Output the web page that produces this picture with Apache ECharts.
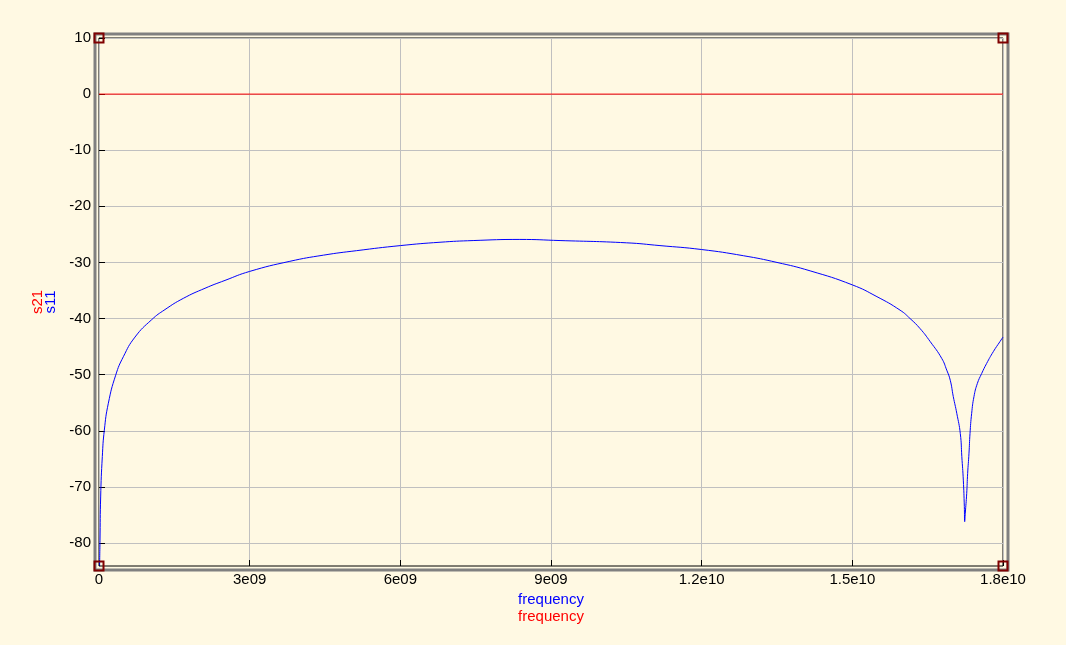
<!DOCTYPE html>
<html><head><meta charset="utf-8">
<script src="https://cdn.jsdelivr.net/npm/echarts@6/dist/echarts.min.js"></script>
<style>html,body{margin:0;padding:0;background:#fff9e3;}#c{width:1066px;height:645px;}</style>
</head><body><div id="c"></div>
<script>
// s11 trace (frequency in Hz, dB)
const freq = [1.2e7, 2.0e7, 3.3e7, 6.6e7, 1.06e8, 1.86e8, 3.32e8, 4.85e8, 7.17e8, 1.049e9, 1.314e9, 1.679e9, 2.111e9, 2.509e9, 3.0e9,
  3.8e9, 4.47e9, 5.13e9, 6.0e9, 6.79e9, 7.45e9, 8.38e9, 9.18e9, 1.05e10, 1.117e10, 1.2e10, 1.283e10, 1.35e10, 1.416e10, 1.5e10,
  1.549e10, 1.595e10, 1.615e10, 1.635e10, 1.655e10, 1.678e10, 1.688e10, 1.695e10, 1.701e10, 1.708e10, 1.715e10, 1.718e10, 1.721e10, 1.723e10, 1.7237e10,
  1.7249e10, 1.7277e10, 1.7296e10, 1.7323e10, 1.7343e10, 1.7376e10, 1.7422e10, 1.7488e10, 1.7575e10, 1.7674e10, 1.7807e10, 1.794e10, 1.8e10];
const s11 = [-84.0, -79.5, -71.8, -64.6, -59.9, -55.1, -50.1, -46.8, -43.3, -40.2, -38.4, -36.4, -34.6, -33.2, -31.6,
  -29.8, -28.7, -27.9, -27.0, -26.4, -26.1, -25.9, -26.1, -26.5, -27.0, -27.7, -28.8, -30.0, -31.5, -34.0,
  -36.1, -38.5, -40.0, -41.8, -44.1, -47.1, -49.2, -51.0, -53.9, -56.9, -60.5, -64.6, -68.8, -73.5, -76.2,
  -74.7, -71.2, -67.6, -64.0, -60.5, -56.9, -53.9, -51.6, -49.8, -48.0, -45.9, -44.1, -43.3];
// s21 trace
const s21Freq = [0, 1.8e10];
const s21 = [0, 0];
// axes
const xTicks = [0, 3e9, 6e9, 9e9, 1.2e10, 1.5e10, 1.8e10];
const xTickLabels = ['0', '3e09', '6e09', '9e09', '1.2e10', '1.5e10', '1.8e10'];
const yTicks = [10, 0, -10, -20, -30, -40, -50, -60, -70, -80];
const xMin = 0, xMax = 1.8e10, yMin = -84.1, yMax = 10;

const FONT = 'Liberation Sans, Arial, sans-serif';
const G = {left: 99, top: 38, right: 63, bottom: 79};
const W = 1066, H = 645;

const chart = echarts.init(document.getElementById('c'), null, {renderer: 'canvas'});
const baseX = {
  type: 'value', min: xMin, max: xMax, interval: 3e9,
  axisLine: {show: false, onZero: false},
  axisTick: {show: true, inside: true, length: 6, lineStyle: {color: '#000'}},
  axisLabel: {show: true, color: '#000', fontFamily: FONT, fontSize: 15, margin: 6,
    formatter: v => { const i = xTicks.indexOf(v); return i >= 0 ? xTickLabels[i] : ''; }},
  splitLine: {show: true, lineStyle: {color: '#c0c0c0', width: 1}},
  nameLocation: 'middle', nameTextStyle: {fontFamily: FONT, fontSize: 15}
};
const baseY = {
  type: 'value', min: yMin, max: yMax,
  axisLine: {show: false, onZero: false},
  nameLocation: 'middle', nameRotate: 90, nameTextStyle: {fontFamily: FONT, fontSize: 15}
};
chart.setOption({
  animation: false,
  backgroundColor: '#fff9e3',
  grid: {left: G.left, top: G.top, right: G.right, bottom: G.bottom, show: true, borderColor: '#000', borderWidth: 1, backgroundColor: 'transparent'},
  xAxis: [
    Object.assign({}, baseX, {name: 'frequency', nameGap: 22, nameTextStyle: {fontFamily: FONT, fontSize: 15, color: '#0000ff'}}),
    Object.assign({}, baseX, {position: 'bottom', name: 'frequency', nameGap: 43,
      nameTextStyle: {fontFamily: FONT, fontSize: 15, color: '#ff0000'},
      axisTick: {show: false}, axisLabel: {show: false}, splitLine: {show: false}})
  ],
  yAxis: [
    Object.assign({}, baseY, {name: 's11', nameGap: 29, nameTextStyle: {fontFamily: FONT, fontSize: 15, color: '#0000ff'},
      axisTick: {show: true, inside: true, length: 6, lineStyle: {color: '#000'}, customValues: yTicks},
      axisLabel: {show: true, color: '#000', fontFamily: FONT, fontSize: 15, margin: 8, customValues: yTicks},
      splitLine: {show: true, lineStyle: {color: '#c0c0c0', width: 1}}}),
    Object.assign({}, baseY, {position: 'left', offset: 0, name: 's21', nameGap: 54,
      nameTextStyle: {fontFamily: FONT, fontSize: 15, color: '#ff0000'},
      axisTick: {show: false}, axisLabel: {show: false}, splitLine: {show: false}})
  ],
  series: [
    {type: 'line', name: 's11', data: freq.map((f, i) => [f, s11[i]]), showSymbol: false, symbol: 'none',
      smooth: 0.5,
      lineStyle: {color: '#0000ff', width: 1}, z: 3},
    {type: 'line', name: 's21', data: s21Freq.map((f, i) => [f, s21[i]]), showSymbol: false, symbol: 'none',
      lineStyle: {color: '#ff0000', width: 1}, z: 3},
    {type: 'scatter', name: 'corners', clip: false, symbol: 'rect', symbolSize: 9, silent: true, z: 10,
      data: [[xMin, yMax], [xMax, yMax], [xMin, yMin], [xMax, yMin]],
      itemStyle: {color: 'rgba(0,0,0,0)', borderColor: '#800000', borderWidth: 2, opacity: 1}}
  ],
  graphic: [{
    type: 'rect', silent: true, z: -1,
    shape: {x: G.left - 4, y: G.top - 4, width: (W - G.right + 5) - (G.left - 4), height: (H - G.bottom + 4) - (G.top - 4)},
    style: {fill: 'none', stroke: '#808080', lineWidth: 3}
  }]
});
</script></body></html>
